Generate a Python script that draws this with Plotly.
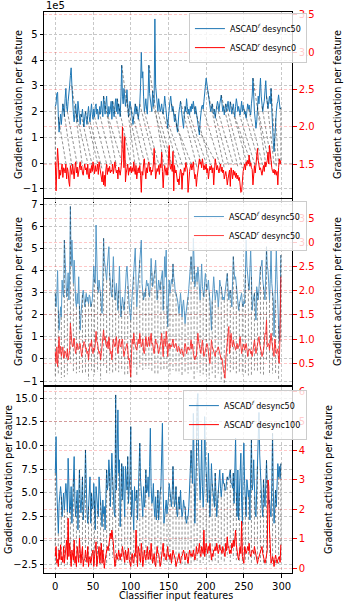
import plotly.graph_objects as go
from plotly.subplots import make_subplots

# ---- data ----
features = list(range(300))

# panel 1 : ASCAD^f desync50 (x1e5) vs ASCAD^r desync0
p1_blue = [
    2.2, 2.3, 2.7, 2.75, 1.8, 1.2, 1.6, 1.9, 1.5, 2.0, 2.3, 2.1, 1.8, 2.5, 2.9, 2.2, 2.0, 2.4, 2.6, 3.0,
    3.4, 3.7, 3.0, 2.3, 1.9, 1.6, 2.0, 2.3, 1.9, 1.6, 2.4, 2.0, 1.7, 1.5, 1.9, 1.8, 2.1, 1.6, 1.4, 1.8,
    2.0, 1.7, 1.5, 1.9, 2.2, 1.8, 1.6, 2.0, 2.3, 1.9, 1.7, 2.1, 1.8, 2.2, 2.3, 1.9, 2.1, 1.7, 2.0, 2.2,
    1.9, 2.4, 2.1, 1.8, 2.6, 2.2, 1.9, 2.3, 2.6, 2.0, 1.8, 2.2, 1.9, 2.1, 2.4, 1.7, 2.4, 2.0, 1.8, 2.2,
    2.5, 2.0, 2.5, 1.9, 2.3, 2.1, 1.8, 2.6, 3.8, 2.6, 2.3, 2.9, 2.4, 2.2, 2.5, 2.85, 2.3, 1.8, 2.1, 2.4,
    2.2, 2.0, 1.7, 1.5, 1.8, 2.0, 2.3, 1.9, 2.2, 2.0, 1.7, 2.0, 2.3, 3.0, 4.3, 3.3, 3.55, 2.6, 2.0, 2.2,
    2.5, 2.1, 1.9, 2.6, 3.8, 2.7, 2.4, 2.3, 2.0, 2.8, 2.2, 2.4, 5.6, 3.0, 2.5, 2.2, 2.0, 2.5, 2.2, 2.0,
    2.1, 2.3, 2.0, 1.9, 2.2, 2.6, 2.3, 2.0, 1.7, 1.35, 1.8, 2.2, 2.4, 2.6, 2.3, 2.0, 2.2, 1.8, 1.6, 1.9,
    1.5, 1.4, 1.2, 1.7, 2.0, 2.2, 2.4, 2.1, 1.8, 1.6, 1.35, 1.9, 2.2, 2.0, 2.5, 2.2, 1.9, 2.1, 1.87, 2.2,
    2.0, 2.3, 2.1, 2.4, 2.2, 1.9, 2.2, 2.0, 1.7, 1.5, 1.3, 1.09, 1.6, 2.0, 2.2, 2.25, 2.1, 2.4, 2.6, 3.0,
    3.3, 3.1, 2.8, 2.64, 2.4, 2.2, 2.0, 2.12, 2.3, 2.0, 1.9, 2.1, 1.74, 2.0, 2.2, 2.4, 2.25, 2.0, 2.3, 2.5,
    2.64, 2.3, 2.0, 2.2, 1.87, 2.1, 2.3, 2.0, 2.25, 2.4, 2.1, 2.0, 2.38, 2.2, 1.9, 2.1, 2.3, 2.0, 1.8, 2.2,
    2.5, 2.3, 2.0, 2.2, 1.9, 1.87, 2.1, 2.4, 2.0, 2.25, 2.1, 1.9, 2.0, 1.74, 2.0, 2.3, 2.1, 2.25, 2.0, 1.87,
    2.3, 2.6, 3.3, 2.4, 2.0, 1.7, 1.35, 1.6, 2.2, 2.6, 2.3, 3.1, 3.3, 2.6, 2.2, 2.0, 2.25, 2.4, 2.8, 3.2,
    2.6, 2.2, 2.12, 2.4, 2.6, 2.3, 2.9, 2.1, 1.2, 0.8, 0.44, 1.2, 1.74, 2.0, 2.3, 2.4, 2.65, 2.2, 2.1, 2.15,
]
p1_red = [
    1.53, 1.14, 1.45, 1.71, 1.55, 1.3, 1.42, 1.35, 1.43, 1.5, 1.32, 1.45, 1.43, 1.38, 1.5, 1.3, 1.45, 1.4, 1.26, 1.2,
    1.48, 1.43, 1.36, 1.5, 1.4, 1.3, 1.45, 1.53, 1.38, 1.46, 1.33, 1.4, 1.5, 1.53, 1.42, 1.47, 1.38, 1.35, 1.44, 1.5,
    1.42, 1.45, 1.36, 1.5, 1.32, 1.3, 1.44, 1.38, 1.48, 1.4, 1.53, 1.45, 1.37, 1.48, 1.4, 1.43, 1.5, 1.36, 1.53, 1.45,
    1.38, 1.32, 1.26, 1.4, 1.22, 1.35, 1.2, 1.42, 1.5, 1.36, 1.45, 1.4, 1.47, 1.38, 1.42, 1.4, 1.5, 1.37, 1.45, 1.53,
    1.44, 1.38, 1.42, 1.3, 1.46, 1.4, 1.35, 1.43, 1.55, 2.0, 1.6, 1.45, 1.87, 1.26, 1.38, 1.43, 1.5, 1.35, 1.45, 1.4,
    1.47, 1.38, 1.45, 1.4, 1.53, 1.42, 1.36, 1.48, 1.3, 1.4, 1.45, 1.38, 1.48, 1.35, 1.12, 1.4, 1.35, 1.5, 1.57, 1.42,
    1.3, 1.45, 1.38, 1.5, 1.53, 1.4, 1.46, 1.35, 1.42, 1.4, 1.5, 1.71, 1.45, 1.3, 1.38, 1.44, 1.4, 1.48, 1.36, 1.5,
    1.45, 1.66, 1.4, 1.18, 1.38, 1.48, 1.42, 1.35, 1.45, 1.35, 1.57, 1.75, 1.48, 1.43, 1.5, 1.4, 1.67, 1.14, 1.48, 1.38,
    1.42, 1.35, 1.26, 1.3, 1.22, 1.35, 1.43, 1.4, 1.16, 1.38, 1.35, 1.45, 1.4, 1.52, 1.48, 1.42, 1.12, 1.38, 1.4, 1.46,
    1.5, 1.42, 1.47, 1.53, 1.4, 1.3, 1.36, 1.2, 1.32, 1.4, 1.45, 1.57, 1.5, 1.53, 1.45, 1.57, 1.5, 1.42, 1.48, 1.43,
    1.5, 1.38, 1.44, 1.3, 1.4, 1.47, 1.42, 1.48, 1.38, 1.45, 1.22, 1.46, 1.57, 1.5, 1.42, 1.48, 1.43, 1.38, 1.45, 1.5,
    1.4, 1.46, 1.38, 1.42, 1.3, 1.36, 1.4, 1.33, 1.22, 1.3, 1.38, 1.42, 1.2, 1.45, 1.38, 1.3, 1.42, 1.35, 1.4, 1.32,
    1.38, 1.3, 1.35, 1.28, 1.32, 1.2, 1.12, 1.13, 1.3, 1.4, 1.45, 1.5, 1.42, 1.53, 1.48, 1.55, 1.5, 1.62, 1.47, 1.52,
    1.45, 1.43, 1.22, 1.42, 1.48, 1.38, 1.53, 1.6, 1.71, 1.55, 1.48, 1.42, 1.45, 1.38, 1.35, 1.42, 1.48, 1.4, 1.53, 1.46,
    1.5, 1.55, 1.66, 1.5, 1.75, 1.6, 1.48, 1.45, 1.4, 1.38, 1.43, 1.36, 1.42, 1.35, 1.4, 1.22, 1.45, 1.57, 1.5, 1.55,
]
# alignment pairs (blue index -> red index)
p1_src = [0, 4, 10, 16, 22, 28, 34, 40, 46, 52, 58, 64, 70, 76, 82, 88, 94, 100, 106, 112, 118, 124, 130, 136,
          142, 148, 154, 160, 166, 172, 178, 184, 190, 196, 202, 208, 214, 220, 226, 232, 238, 244, 250, 256,
          262, 268, 274, 280, 286, 292, 299]
p1_dst = [0, 14, 22, 29, 36, 43, 49, 56, 62, 69, 75, 81, 88, 94, 100, 106, 113, 119, 125, 132, 138, 144, 150, 157,
          163, 169, 175, 181, 188, 194, 200, 206, 212, 218, 224, 230, 236, 242, 248, 254, 260, 265, 270, 275,
          279, 283, 287, 290, 293, 296, 299]

# panel 2 : ASCAD^f desync50 vs ASCAD^r desync50
p2_blue = [
    2.97, 2.36, 2.9, 4.0, 2.2, 1.3, 1.8, 2.36, 1.9, 3.57, 3.0, 2.8, 5.38, 4.6, 4.2, 2.8, 3.2, 3.9, 2.67, 3.8,
    6.9, 4.2, 5.38, 4.0, 3.42, 4.47, 2.97, 2.6, 2.36, 2.97, 2.5, 3.72, 2.4, 1.3, 2.0, 2.67, 2.9, 3.12, 2.6, 2.36,
    2.7, 2.97, 2.6, 2.8, 2.5, 2.9, 2.8, 2.36, 2.5, 2.67, 3.3, 4.2, 3.6, 3.42, 6.06, 4.2, 3.27, 3.0, 3.57, 3.2,
    2.97, 2.4, 2.06, 3.6, 5.46, 4.5, 4.2, 4.0, 3.57, 4.2, 4.6, 5.08, 3.9, 3.12, 3.0, 2.8, 3.6, 4.63, 3.5, 2.67,
    3.0, 3.42, 2.8, 2.2, 3.1, 4.2, 2.9, 1.9, 2.4, 2.8, 2.5, 2.2, 2.6, 3.4, 3.9, 4.2, 3.3, 2.8, 2.4, 2.1,
    1.76, 2.4, 2.97, 3.3, 3.72, 4.3, 5.0, 3.5, 2.36, 3.0, 3.57, 4.0, 4.47, 4.9, 5.38, 3.42, 3.0, 2.67, 3.0, 2.8,
    3.2, 3.57, 3.3, 3.42, 3.0, 2.8, 3.6, 4.55, 3.9, 3.27, 3.5, 3.72, 4.0, 4.47, 3.4, 2.67, 3.1, 3.57, 3.3, 3.12,
    3.5, 3.72, 4.0, 2.2, 3.3, 4.63, 3.7, 4.93, 2.4, 1.46, 2.8, 3.57, 2.97, 3.2, 3.6, 3.4, 4.3, 3.7, 3.5, 3.0,
    2.97, 2.8, 2.67, 2.4, 2.06, 2.5, 2.97, 2.5, 1.9, 2.4, 2.67, 2.2, 1.6, 2.0, 2.2, 2.5, 2.8, 3.2, 3.6, 4.0,
    4.63, 4.0, 3.5, 5.46, 4.2, 3.27, 3.6, 3.9, 3.5, 4.17, 3.8, 3.42, 2.67, 3.4, 4.3, 3.27, 3.0, 2.8, 3.5, 3.87,
    3.4, 3.12, 3.3, 3.57, 3.0, 2.67, 2.0, 1.3, 2.6, 3.3, 3.72, 3.2, 2.67, 2.9, 3.12, 3.0, 2.36, 2.8, 3.57, 3.3,
    3.27, 3.0, 2.67, 2.8, 2.67, 3.0, 3.27, 3.5, 3.87, 3.2, 2.67, 3.0, 3.12, 2.8, 2.36, 3.5, 4.63, 4.0, 3.6, 3.72,
    3.3, 2.97, 2.6, 2.2, 2.5, 2.67, 2.8, 2.97, 2.5, 2.36, 2.6, 2.5, 3.8, 5.38, 4.2, 3.5, 3.42, 3.12, 4.0, 4.93,
    3.72, 2.2, 2.6, 2.9, 2.97, 2.3, 1.76, 3.27, 3.0, 2.67, 3.2, 3.72, 4.17, 4.2, 4.47, 3.6, 3.27, 3.0, 2.67, 3.8,
    5.08, 4.2, 4.0, 3.4, 2.67, 3.6, 4.93, 3.42, 3.0, 2.67, 1.0, 2.6, 2.67, 4.93, 3.6, 2.06, 1.5, 0.8, 2.0, 4.7,
]
p2_red = [
    0.74, 0.5, 0.84, 0.43, 0.8, 1.05, 0.7, 0.85, 0.64, 0.72, 0.84, 0.6, 0.68, 0.75, 0.7, 0.62, 0.8, 0.57, 0.66, 0.77,
    1.33, 1.05, 0.9, 0.84, 0.95, 1.02, 0.8, 0.7, 0.85, 0.91, 0.78, 0.8, 0.9, 0.91, 0.75, 0.64, 0.8, 0.84, 0.95, 0.91,
    0.8, 0.82, 0.7, 0.75, 0.57, 0.8, 0.91, 0.85, 0.98, 0.78, 0.7, 0.82, 0.77, 0.9, 1.16, 0.95, 0.91, 0.8, 0.7, 0.75,
    0.57, 0.7, 0.84, 0.95, 1.19, 0.98, 1.05, 0.9, 0.84, 0.95, 0.8, 1.05, 0.85, 0.7, 0.75, 0.57, 0.8, 1.0, 0.9, 0.84,
    0.9, 1.05, 0.85, 0.7, 0.9, 1.0, 0.85, 0.84, 0.95, 1.0, 0.8, 0.64, 0.75, 0.77, 0.85, 0.91, 0.8, 0.57, 0.6, 0.45,
    0.22, 0.7, 1.0, 0.9, 1.12, 0.95, 0.84, 0.8, 0.77, 0.85, 1.0, 0.9, 1.12, 0.95, 0.84, 0.9, 1.0, 0.75, 0.7, 0.85,
    1.05, 0.9, 0.84, 0.95, 1.05, 0.85, 0.98, 1.12, 0.9, 0.91, 0.8, 0.7, 0.85, 1.0, 0.9, 0.91, 0.8, 0.7, 0.78, 0.84,
    0.95, 1.12, 0.9, 0.64, 1.0, 1.0, 0.85, 1.16, 1.0, 0.64, 0.85, 0.91, 0.8, 0.88, 0.84, 0.9, 1.0, 0.85, 0.82, 0.9,
    0.91, 0.8, 0.74, 0.85, 0.84, 0.75, 0.7, 0.8, 0.77, 0.7, 0.64, 0.8, 0.91, 0.85, 0.7, 0.78, 0.84, 0.8, 0.77, 0.85,
    0.98, 0.8, 0.9, 0.7, 0.6, 0.57, 0.65, 0.64, 0.9, 1.12, 0.95, 0.84, 0.75, 0.7, 0.85, 0.98, 0.8, 0.64, 0.7, 0.77,
    0.8, 0.91, 0.85, 0.64, 0.6, 0.5, 0.7, 0.98, 0.85, 0.8, 0.77, 0.7, 0.64, 0.75, 0.74, 0.8, 0.84, 0.78, 0.7, 0.65,
    0.57, 0.6, 0.43, 0.35, 0.29, 0.19, 0.6, 0.84, 0.98, 1.1, 1.26, 0.7, 0.9, 1.12, 0.95, 0.84, 0.98, 0.9, 0.8, 0.77,
    0.85, 0.91, 0.8, 0.84, 0.9, 1.05, 0.9, 0.7, 0.8, 0.84, 0.9, 0.77, 0.85, 0.91, 0.8, 0.64, 0.75, 0.77, 0.8, 0.7,
    0.75, 0.64, 0.8, 0.9, 0.98, 0.85, 0.7, 0.8, 0.91, 1.0, 1.05, 0.9, 0.84, 0.75, 0.64, 0.7, 0.77, 0.9, 1.12, 1.1,
    1.4, 0.84, 0.9, 0.91, 0.77, 0.9, 1.12, 0.95, 0.84, 0.7, 0.64, 1.0, 0.85, 0.7, 0.74, 0.8, 0.57, 0.5, 1.2, 2.29,
]

# panel 3 : ASCAD^f desync50 vs ASCAD^r desync100
p3_blue = [
    7.1, 10.95, 5.3, 3.0, 0.74, 3.9, 4.8, 5.67, 4.6, 2.5, 3.8, 5.0, 3.2, 4.5, 6.0, 4.9, 3.0, 8.66, 4.26, 2.9,
    3.56, 5.67, 1.8, 4.96, 6.5, 8.84, 3.9, 2.5, 4.2, 5.3, 1.1, 4.0, 7.43, 4.3, 2.9, 4.5, 6.7, 2.15, 3.5, 5.3,
    9.54, 4.6, 3.0, 1.8, 3.56, 4.9, 6.7, 1.8, 4.96, 3.3, 3.56, 6.0, 4.2, 1.1, 5.67, 4.26, 3.1, 2.5, 6.7, 5.3,
    4.0, 3.56, 1.44, 4.26, 2.8, 3.56, 1.1, 4.5, 7.43, 5.3, 6.0, 8.5, 7.1, 3.56, 6.0, 9.2, 6.7, 4.26, 3.0, 2.5,
    15.35, 5.3, 9.0, 13.77, 7.1, 8.5, 1.44, 5.0, 8.1, 4.26, 7.8, 5.0, 2.5, 7.8, 5.5, 5.3, 8.84, 3.9, 5.5, 7.1,
    12.0, 2.5, 5.3, 3.0, 1.1, 5.67, 4.2, 4.26, 5.3, 2.15, 6.0, 8.1, 10.25, 6.4, 5.0, 4.6, 2.5, 5.67, 3.5, 4.26,
    7.43, 5.0, 5.3, 6.7, 4.6, 7.8, 11.83, 5.67, 3.9, 4.26, 6.0, 3.5, 2.5, 4.6, 2.15, 3.3, 5.3, 2.15, 4.26, 5.0,
    5.67, 9.9, 12.36, 5.3, 1.8, 2.5, 3.3, 4.26, 2.8, 3.56, 4.5, 6.0, 4.9, 4.6, 3.56, 5.0, 7.8, 5.0, 3.56, 4.2,
    5.67, 3.0, 2.5, 3.9, 4.6, 3.3, 5.3, 3.5, 2.5, 3.0, 4.26, 3.5, 3.56, 2.2, 1.8, 2.5, 2.5, 3.6, 5.3, 7.0,
    9.5, 7.8, 6.0, 13.4, 6.0, 1.8, 5.0, 8.1, 14.5, 15.5, 9.2, 5.5, 4.26, 6.4, 10.6, 5.67, 3.5, 5.3, 13.06, 8.84,
    7.0, 6.0, 4.0, 9.2, 5.3, 2.5, 5.0, 8.1, 6.0, 5.0, 4.26, 3.5, 7.1, 5.0, 2.5, 3.9, 5.3, 6.7, 7.43, 5.5,
    4.6, 5.67, 7.1, 6.0, 6.0, 5.3, 5.3, 6.2, 6.7, 6.4, 6.4, 7.0, 7.43, 6.0, 6.0, 5.5, 7.1, 3.9, 6.5, 10.8,
    5.0, 2.5, 7.43, 2.15, 5.0, 6.4, 9.2, 4.0, 1.8, 7.8, 10.25, 6.0, 4.6, 2.5, 6.4, 5.3, 4.6, 5.3, 2.15, 7.0,
    10.6, 5.3, 6.0, 8.5, 4.6, 3.0, 2.5, 4.96, 7.8, 10.0, 13.5, 9.0, 5.3, 5.3, 3.56, 2.5, 6.4, 4.6, 3.56, 6.0,
    8.45, 6.0, 5.3, 3.8, 4.26, 3.0, 2.5, 6.0, 11.3, 5.3, 1.8, 3.5, 5.3, 3.56, 5.5, 8.1, 6.7, 7.8, 6.5, 8.1,
]
p3_red = [
    0.4, 0.74, 0.17, 0.3, 0.06, 0.62, 0.3, 0.8, 0.28, 0.4, 0.2, 0.74, 0.17, 0.5, 0.5, 0.96, 0.3, 1.7, 0.4, 0.85,
    0.5, 0.06, 0.62, 0.3, 0.28, 0.96, 0.17, 0.4, 0.06, 0.74, 0.4, 0.2, 1.02, 0.62, 0.17, 0.5, 0.74, 0.06, 0.3, 0.28,
    0.62, 0.4, 0.2, 0.74, 0.06, 0.3, 0.4, 0.17, 0.28, 0.5, 0.62, 0.06, 0.4, 0.85, 0.9, 0.06, 0.3, 0.5, 0.74, 0.17,
    0.4, 0.85, 0.17, 0.62, 0.3, 0.0, 0.28, 0.4, 0.5, 0.74, 0.6, 0.85, 0.9, 1.19, 1.0, 1.3, 1.05, 0.85, 0.4, 0.06,
    0.17, 0.5, 0.3, 0.4, 0.62, 0.3, 0.28, 0.5, 0.4, 0.74, 0.6, 0.4, 0.2, 0.62, 0.4, 0.28, 0.5, 0.68, 0.3, 0.2,
    0.06, 0.4, 0.5, 0.2, 0.17, 0.5, 0.4, 1.3, 0.3, 0.06, 0.74, 0.4, 0.4, 0.2, 0.85, 0.5, 0.06, 0.3, 0.62, 0.4,
    0.28, 0.5, 0.74, 0.3, 0.4, 0.62, 0.3, 0.85, 0.5, 0.17, 0.3, 0.5, 0.2, 0.06, 0.4, 0.74, 0.5, 0.5, 0.3, 0.06,
    0.2, 0.4, 0.5, 0.85, 0.4, 0.5, 0.3, 0.28, 0.5, 0.74, 0.4, 0.45, 0.3, 0.5, 0.17, 0.4, 0.62, 0.5, 0.4, 0.3,
    0.06, 0.2, 0.28, 0.4, 0.5, 0.3, 0.17, 0.4, 0.4, 0.5, 0.62, 0.5, 0.28, 0.4, 0.5, 0.3, 0.17, 0.4, 0.62, 0.5,
    0.4, 0.5, 0.4, 0.62, 0.5, 0.28, 0.4, 0.74, 0.5, 0.5, 0.62, 0.85, 0.5, 0.4, 0.74, 0.62, 0.5, 1.3, 0.4, 0.6,
    0.85, 0.7, 0.5, 0.74, 0.6, 0.85, 0.5, 0.28, 0.5, 0.4, 0.62, 0.6, 0.74, 0.6, 0.85, 0.5, 0.5, 0.6, 0.8, 0.62,
    0.62, 0.5, 0.74, 0.6, 0.5, 0.4, 0.85, 0.6, 1.07, 0.7, 0.74, 0.5, 0.62, 0.5, 0.85, 0.7, 0.96, 0.74, 1.0, 1.3,
    0.8, 0.5, 0.4, 0.28, 0.6, 0.74, 0.5, 1.6, 0.4, 0.3, 0.17, 0.74, 0.6, 0.5, 0.6, 0.74, 0.6, 0.85, 0.5, 0.4,
    0.5, 0.62, 0.6, 0.5, 0.74, 0.6, 0.5, 0.4, 0.17, 0.3, 0.4, 0.5, 0.62, 0.7, 0.74, 0.5, 0.4, 0.3, 0.17, 0.3,
    0.4, 0.6, 3.0, 2.78, 1.3, 0.4, 0.17, 0.28, 0.4, 0.3, 0.06, 0.3, 0.45, 0.3, 0.17, 0.3, 0.4, 0.4, 0.2, 0.8,
]
# same-index alignments drawn for panels 2 and 3
aligned_idx = [0, 4, 8, 12, 16, 20, 24, 28, 32, 36, 40, 44, 48, 52, 56, 60, 64, 68, 72, 76, 80, 84, 88, 92,
               96, 100, 104, 108, 112, 116, 120, 124, 128, 132, 136, 140, 144, 148, 152, 156, 160, 164, 168,
               172, 176, 180, 184, 188, 192, 196, 200, 204, 208, 212, 216, 220, 224, 228, 232, 236, 240, 244,
               248, 252, 256, 260, 264, 268, 272, 276, 280, 284, 288, 292, 296, 299]

legend_names = [
    ("ASCAD<sup><i>f</i></sup> desync50", "ASCAD<sup><i>r</i></sup> desync0"),
    ("ASCAD<sup><i>f</i></sup> desync50", "ASCAD<sup><i>r</i></sup> desync50"),
    ("ASCAD<sup><i>f</i></sup> desync50", "ASCAD<sup><i>r</i></sup> desync100"),
]

for arr in (p1_blue, p1_red, p2_blue, p2_red, p3_blue, p3_red):
    assert len(arr) == 300, len(arr)

# ---- style ----
FONT = "DejaVu Sans"
BLUE = "#1f77b4"
RED = "#ff0000"
GRID = "#c8c8c8"
PINK = "rgba(255,0,0,0.22)"

panels = [
    dict(blue=p1_blue, red=p1_red, src=p1_src, dst=p1_dst, shift=-1.5, op=1.0,
         yl=[-1.36, 5.87], dl=1, fl="d", yr=[1.044, 3.54], dr=0.5, fr=".1f", dom=[0.6684, 1.0], ly=0.998),
    dict(blue=p2_blue, red=p2_red, src=aligned_idx, dst=aligned_idx, shift=-1.5, op=0.75,
         yl=[-1.18, 7.24], dl=1, fl="d", yr=[0.05, 3.90], dr=0.5, fr=".1f", dom=[0.3351, 0.6667], ly=0.663),
    dict(blue=p3_blue, red=p3_red, src=aligned_idx, dst=aligned_idx, shift=-2.9, op=1.0,
         yl=[-3.45, 16.19], dl=2.5, fl=".1f", yr=[-0.16, 6.16], dr=1, fr="d", dom=[0.0, 0.3316], ly=0.326),
]

fig = make_subplots(rows=3, cols=1, shared_xaxes=True, vertical_spacing=0.003,
                    specs=[[{"secondary_y": True}]] * 3)

legend_ids = ["legend", "legend2", "legend3"]

for k, p in enumerate(panels):
    row = k + 1
    # dashed alignment lines from blue point to (shifted) red point
    xs, ys = [], []
    for s, d in zip(p["src"], p["dst"]):
        xs += [features[s], features[d], None]
        ys += [p["blue"][s], p["red"][d] + p["shift"], None]

    fig.add_trace(go.Scatter(x=features, y=p["blue"], mode="lines", name=legend_names[k][0],
                             line=dict(color=BLUE, width=1), opacity=p["op"], legend=legend_ids[k]),
                  row=row, col=1, secondary_y=False)
    fig.add_trace(go.Scatter(x=xs, y=ys, mode="lines", showlegend=False, hoverinfo="skip",
                             line=dict(color="black", width=0.7, dash="3px,2px"), opacity=0.6),
                  row=row, col=1, secondary_y=False)
    fig.add_trace(go.Scatter(x=features, y=p["red"], mode="lines", name=legend_names[k][1],
                             line=dict(color=RED, width=1), opacity=p["op"], legend=legend_ids[k]),
                  row=row, col=1, secondary_y=True)

    fig.update_yaxes(range=p["yl"], dtick=p["dl"], tick0=0, tickformat=p["fl"], domain=p["dom"],
                     ticks="outside", ticklen=3.5, tickcolor="black", tickwidth=0.8,
                     tickfont=dict(size=10, color="black", family=FONT),
                     showline=True, linecolor="black", linewidth=1, zeroline=False,
                     showgrid=True, gridcolor=GRID, griddash="3px,2px", gridwidth=0.8,
                     automargin=False, row=row, col=1, secondary_y=False)
    fig.update_yaxes(range=p["yr"], dtick=p["dr"], tick0=0, tickformat=p["fr"],
                     ticks="outside", ticklen=3.5, tickcolor=RED, tickwidth=0.8,
                     tickfont=dict(size=10, color=RED, family=FONT),
                     showline=True, linecolor="black", linewidth=1, zeroline=False,
                     showgrid=True, gridcolor=PINK, griddash="3px,2px", gridwidth=0.8,
                     automargin=False, row=row, col=1, secondary_y=True)

fig.update_xaxes(range=[-15, 314], dtick=50, tick0=0, ticks="outside", ticklen=3.5, tickwidth=0.8,
                 tickcolor="black", tickfont=dict(size=10, color="black", family=FONT),
                 showline=True, mirror=True, linecolor="black", linewidth=1, zeroline=False,
                 showgrid=True, gridcolor=GRID, griddash="3px,2px", gridwidth=0.8, automargin=False)

legend_style = dict(xanchor="right", yanchor="top", x=0.996, font=dict(size=8, family=FONT, color="black"),
                    bgcolor="rgba(255,255,255,0.8)", bordercolor="#cccccc", borderwidth=1,
                    itemwidth=30, tracegroupgap=0)

# axis titles placed as annotations (pixel-matched)
W_PLOT, H_PLOT = 346 - 44 - 38, 606 - 12 - 33
def px_x(x):
    return (x - 44) / W_PLOT
def px_y(y):
    return (573 - y) / H_PLOT

ytitle = "Gradient activation per feature"
title_pos = [(18, 337, 105), (18, 337, 292), (8, 328, 480)]
annotations = []
for xl, xr, yc in title_pos:
    for xc in (xl, xr):
        annotations.append(dict(text=ytitle, x=px_x(xc), y=px_y(yc), xref="paper", yref="paper",
                                textangle=-90, showarrow=False, xanchor="center", yanchor="middle",
                                font=dict(size=9.6, family=FONT, color="black")))
annotations.append(dict(text="Classifier input features", x=0.5, y=px_y(595), xref="paper", yref="paper",
                        showarrow=False, xanchor="center", yanchor="middle",
                        font=dict(size=9.6, family=FONT, color="black")))
annotations.append(dict(text="1e5", x=0, y=px_y(6), xref="paper", yref="paper",
                        showarrow=False, xanchor="left", yanchor="middle",
                        font=dict(size=10, family=FONT, color="black")))

fig.update_layout(
    width=346, height=606,
    margin=dict(l=44, r=38, t=12, b=33),
    template="none",
    paper_bgcolor="white", plot_bgcolor="white",
    font=dict(family=FONT, size=10, color="black"),
    legend=dict(legend_style, y=panels[0]["ly"]),
    legend2=dict(legend_style, y=panels[1]["ly"]),
    legend3=dict(legend_style, y=panels[2]["ly"]),
    annotations=annotations,
    hovermode=False,
)

# the page body has a default margin; drop it so the figure sits at the window's corner
fig.write_html("out.html", config={"displayModeBar": False},
               post_script="document.body.style.margin='0';")
